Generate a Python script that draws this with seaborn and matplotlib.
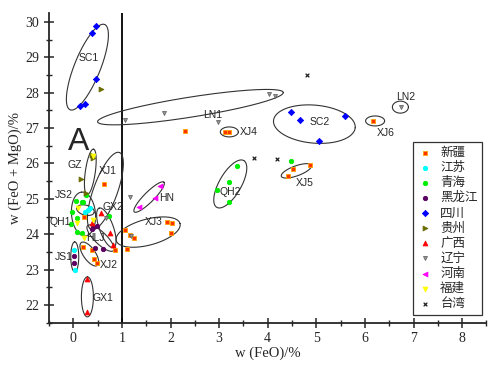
import numpy as np
import pandas as pd
import matplotlib.pyplot as plt
from matplotlib.ticker import MultipleLocator
import seaborn as sns

# ---- data (FeO %, FeO+MgO %) ----
xinjiang_x = [0.64, 0.20, 0.38, 0.42, 0.48, 1.07, 1.17, 1.25, 1.10, 1.93, 2.04, 2.02, 0.22, 0.86,
              3.13, 3.20, 2.30, 4.42, 4.53, 4.86, 6.17]
xinjiang_y = [25.42, 23.65, 23.55, 23.30, 23.20, 24.12, 23.97, 23.90, 23.58, 24.35, 24.32, 24.03, 24.50, 23.55,
              26.90, 26.90, 26.93, 25.64, 25.84, 25.95, 27.20]
jiangsu_x = [0.02, 0.04, 0.35, 0.25, 0.30]
jiangsu_y = [23.55, 22.99, 24.74, 24.63, 24.68]
qinghai_x = [0.06, 0.18, -0.02, 0.08, -0.04, 0.08, 0.18, 0.27, 0.20, 0.74, 3.37, 3.21, 2.96, 3.21, 4.47]
qinghai_y = [24.94, 24.91, 24.63, 24.46, 24.30, 24.06, 24.03, 25.10, 24.90, 24.52, 25.93, 25.47, 25.24, 24.91, 26.07]
hlj_x = [0.02, 0.02, 0.45, 0.62, 0.41, 0.49, 0.39]
hlj_y = [23.38, 23.19, 23.60, 23.58, 24.20, 24.22, 24.15]
sichuan_x = [0.47, 0.39, 0.47, 0.25, 0.13, 4.47, 4.67, 5.06, 5.60]
sichuan_y = [29.88, 29.68, 28.38, 27.68, 27.62, 27.45, 27.23, 26.63, 27.34]
guizhou_x = [0.56, 0.39, 0.40, 0.16, 0.27]
guizhou_y = [28.10, 26.25, 26.15, 25.56, 25.16]
guangxi_x = [0.29, 0.29, 0.56, 0.76, 0.82, 0.39]
guangxi_y = [22.73, 21.80, 24.60, 24.03, 23.70, 24.32]
liaoning_x = [1.07, 1.87, 2.98, 4.03, 4.14, 6.75, 1.16, 1.19, 0.68]
liaoning_y = [27.23, 27.42, 27.17, 27.96, 27.90, 27.60, 25.05, 23.95, 24.46]
henan_x = [1.79, 1.69, 1.36]
henan_y = [25.36, 25.02, 24.77]
fujian_x = [0.08, 0.41, 0.23, 0.10, 0.40]
fujian_y = [24.31, 24.40, 23.90, 24.74, 26.20]
taiwan_x = [4.81, 3.72, 4.20]
taiwan_y = [28.50, 26.15, 26.12]

provinces = ['新疆', '江苏', '青海', '黑龙江', '四川', '贵州', '广西', '辽宁', '河南', '福建', '台湾']
xs = [xinjiang_x, jiangsu_x, qinghai_x, hlj_x, sichuan_x, guizhou_x, guangxi_x,
      liaoning_x, henan_x, fujian_x, taiwan_x]
ys = [xinjiang_y, jiangsu_y, qinghai_y, hlj_y, sichuan_y, guizhou_y, guangxi_y,
      liaoning_y, henan_y, fujian_y, taiwan_y]

df = pd.concat([pd.DataFrame({'feo': x, 'sum': y, 'prov': p}) for p, x, y in zip(provinces, xs, ys)],
               ignore_index=True)

# style per province: marker, face, edge, size
styles = {
    '新疆': ('s', '#ff3300', '#ffa500', 8),
    '江苏': ('o', '#00ffff', '#00ffff', 10),
    '青海': ('o', '#00ee00', '#00ee00', 10),
    '黑龙江': ('o', '#5b0060', '#5b0060', 10),
    '四川': ('D', '#0000ff', '#0000ff', 10),
    '贵州': ('>', '#6b6b00', '#6b6b00', 12),
    '广西': ('^', '#ff0000', '#ff0000', 12),
    '辽宁': ('v', '#999999', '#666666', 8),
    '河南': ('<', '#ff00ff', '#ff00ff', 12),
    '福建': ('v', '#ffff00', '#ffff00', 12),
    '台湾': ('x', '#222222', '#222222', 7),
}

# group outlines: label, centre (data), semi-axes (px), angle (deg on screen)
groups = [
    ('SC1', 0.29, 28.72, 46, 13, 68), ('GZ', 0.35, 25.76, 23, 5, 82),
    ('XJ1', 0.66, 25.22, 41, 12, 70), ('QH1', 0.21, 24.57, 22, 12, 95),
    ('JS2', 0.25, 24.68, 9, 5, -15), ('GX2', 0.68, 24.18, 21, 7, 110),
    ('HLJ', 0.56, 23.89, 18, 6, -44), ('JS1', 0.03, 23.36, 15, 4, 90),
    ('XJ2', 0.33, 23.44, 14, 6, -55), ('GX1', 0.29, 22.23, 20, 6, 90),
    ('XJ3', 1.54, 24.06, 33, 13, 15), ('HN', 1.56, 25.05, 21, 5, 45),
    ('LN1', 2.41, 27.59, 94, 10, 9), ('XJ4', 3.21, 26.89, 9, 5, 0),
    ('SC2', 4.96, 27.11, 41, 19, -5), ('XJ5', 4.59, 25.79, 16, 5, 20),
    ('QH2', 3.23, 25.42, 27, 11, 60), ('XJ6', 6.21, 27.20, 9.5, 5, 0),
    ('LN2', 6.73, 27.59, 8, 6, 0),
]
label_pos = {
    'SC1': (0.31, 28.98), 'GZ': (0.04, 25.95), 'XJ1': (0.70, 25.79), 'JS2': (-0.2, 25.1),
    'QH1': (-0.27, 24.35), 'GX2': (0.82, 24.77), 'HLJ': (0.45, 23.9), 'JS1': (-0.2, 23.36),
    'XJ2': (0.72, 23.13), 'GX1': (0.62, 22.2), 'XJ3': (1.65, 24.34), 'HN': (1.92, 25.02),
    'LN1': (2.86, 27.37), 'XJ4': (3.6, 26.89), 'SC2': (5.08, 27.17), 'XJ6': (6.42, 26.86),
    'LN2': (6.83, 27.88), 'QH2': (3.23, 25.2), 'XJ5': (4.77, 25.45),
}

sns.set_style('ticks')
plt.rcParams['font.family'] = ['Liberation Serif', 'Noto Sans CJK SC', 'DejaVu Sans']

fig = plt.figure(figsize=(4.89, 3.68), dpi=100)
ax = fig.add_axes([0.1002, 0.1231, 0.8945, 0.8416])
ax.set_xlim(-0.5, 8.5)
ax.set_ylim(21.5, 30.25)

for p in provinces:
    m, fc, ec, s = styles[p]
    sub = df[df['prov'] == p]
    if m == 'x':
        sns.scatterplot(data=sub, x='feo', y='sum', marker=m, color=fc, s=s, linewidth=0.9,
                        label=p, ax=ax, zorder=3)
    else:
        sns.scatterplot(data=sub, x='feo', y='sum', marker=m, color=fc, edgecolor=ec, s=s,
                        linewidth=0.6, label=p, ax=ax, zorder=3)

ax.axvline(1, color='black', lw=1.3, zorder=2)

# ellipses drawn in screen proportions
sx = ax.bbox.width / 9.0
sy = ax.bbox.height / 8.75
t = np.linspace(0, 2 * np.pi, 200)
for name, cx, cy, a, b, ang in groups:
    th = np.deg2rad(ang)
    ex = cx + (a * np.cos(t) * np.cos(th) - b * np.sin(t) * np.sin(th)) / sx
    ey = cy + (a * np.cos(t) * np.sin(th) + b * np.sin(t) * np.cos(th)) / sy
    ax.plot(ex, ey, color='#333333', lw=0.8, zorder=2)
    lx, ly = label_pos[name]
    ax.text(lx, ly, name, fontsize=7.5, family='Liberation Sans', ha='center', va='center', zorder=4)

ax.text(0.1, 26.6, 'A', fontsize=23, family='Liberation Sans', ha='center', va='center')

ax.set_xticks(range(0, 9))
ax.set_yticks(range(22, 31))
ax.xaxis.set_minor_locator(MultipleLocator(0.5))
ax.yaxis.set_minor_locator(MultipleLocator(0.5))
ax.tick_params(which='major', direction='inout', length=7, width=1.1, labelsize=10)
ax.tick_params(which='minor', direction='inout', length=4, width=1.0)
for sp in ['top', 'right']:
    ax.spines[sp].set_visible(False)
for sp in ['left', 'bottom']:
    ax.spines[sp].set_linewidth(1.3)

ax.set_xlabel('w (FeO)/%', fontsize=10.5, labelpad=1)
ax.set_ylabel('w (FeO + MgO)/%', fontsize=10.5, labelpad=2)

h, l = ax.get_legend_handles_labels()
leg = ax.legend(h, l, loc='upper left', bbox_to_anchor=(0.833, 0.585), frameon=True,
                fancybox=False, edgecolor='black', borderpad=0.35, labelspacing=0.17,
                handletextpad=0.6, handlelength=1.2, borderaxespad=0, markerscale=1.0,
                prop={'family': ['Noto Sans CJK SC'], 'size': 9})
leg.get_frame().set_linewidth(0.9)

fig.savefig('out.png', dpi=100)
